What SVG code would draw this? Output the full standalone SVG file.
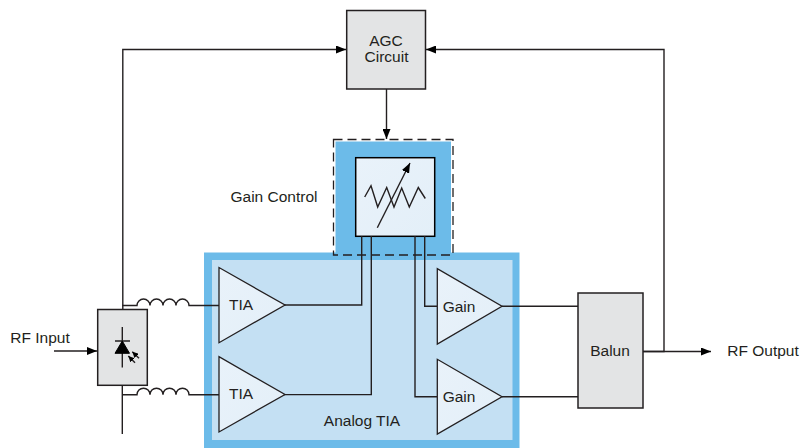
<svg xmlns="http://www.w3.org/2000/svg" width="802" height="448" viewBox="0 0 802 448">
<defs>
<marker id="arr" markerUnits="userSpaceOnUse" markerWidth="10" markerHeight="8" refX="10" refY="4" orient="auto"><path d="M0,0L10,4L0,8Z" fill="#000"/></marker>
<marker id="sm" markerUnits="userSpaceOnUse" markerWidth="6" markerHeight="6" refX="6" refY="3" orient="auto"><path d="M0,0L6,3L0,6Z" fill="#000"/></marker>
<linearGradient id="g" x1="0" y1="0" x2="1" y2="1"><stop offset="0" stop-color="#e9f2fa"/><stop offset="1" stop-color="#e3eff8"/></linearGradient>
</defs>
<style>
text{font-family:"Liberation Sans",Arial,sans-serif;font-size:15.500px;fill:#231f20;text-anchor:middle}
.l{fill:none;stroke:#231f20;stroke-width:1.400}
.a{fill:none;stroke:#231f20;stroke-width:1.400;marker-end:url(#arr)}
.box{fill:#e3e4e5;stroke:#231f20;stroke-width:1.500}
.tri{fill:url(#g);stroke:#231f20;stroke-width:1.300}
</style>
<g id="analog-tia">
<rect x="204" y="252.500" width="315.500" height="195.500" fill="#6cbbe9"/>
<rect x="212" y="260" width="300.500" height="180" fill="#c4e0f3"/>
<text x="362" y="426">Analog TIA</text>
</g>
<g id="gain-control">
<rect x="335.500" y="141.500" width="115.500" height="113" fill="#6cbbe9"/>
<rect x="333.500" y="139.500" width="119.500" height="115.500" fill="none" stroke="#231f20" stroke-width="1.300" stroke-dasharray="9 5"/>
<rect x="355.700" y="157.700" width="79" height="78.600" fill="url(#g)" stroke="#000" stroke-width="1.500"/>
<path class="l" d="M364.700,197L371,185.700L377.700,207L386.700,187.500L394,207L401.700,188L409.300,207L418.300,187.500L425.300,198.500"/>
<path d="M377.300,227.700L410,163" class="l" marker-end="url(#arr)"/>
<text x="274" y="202">Gain Control</text>
</g>
<g id="connectors">
<path class="a" d="M122.800,309V49.500H346"/>
<path class="a" d="M643,351.500H664V49.500H426"/>
<path class="a" d="M386.500,89V139"/>
<path class="a" d="M643,351.500H711"/>
<path class="a" d="M54,351H97"/>
<path class="l" d="M122.300,385V434"/>
<path class="l" d="M122.300,305.500H137A6.500,6.500 0 0 1 150,305.500A6.500,6.500 0 0 1 163,305.500A6.500,6.500 0 0 1 176,305.500A6.500,6.500 0 0 1 189,305.500H219"/>
<path class="l" d="M122.300,394.700H137A6.500,6.500 0 0 1 150,394.700A6.500,6.500 0 0 1 163,394.700A6.500,6.500 0 0 1 176,394.700A6.500,6.500 0 0 1 189,394.700H219"/>
<path class="l" d="M284,305H361.700V236"/>
<path class="l" d="M284,394.600H371.300V236"/>
<path class="l" d="M415,236V396.700H437"/>
<path class="l" d="M424.700,236V306.300H437"/>
<path class="l" d="M502,306.300H578"/>
<path class="l" d="M502,396.700H578"/>
</g>
<g id="agc"><rect class="box" x="346.700" y="10.500" width="78.800" height="78.500"/><text x="386" y="46">AGC</text><text x="386.500" y="62">Circuit</text></g>
<g id="photodiode">
<rect class="box" x="97.700" y="309.500" width="49.600" height="75.800"/>
<path class="l" d="M122.300,327V367.500M115,341H130"/>
<path d="M115,353.300L122.300,341L129.500,353.300Z" fill="#000" stroke="#000"/>
<path d="M139,358.300L132.300,351.700" class="l" marker-end="url(#sm)"/>
<path d="M135,362.700L128.300,356" class="l" marker-end="url(#sm)"/>
</g>
<g id="tia1"><path class="tri" d="M219,267.500V342.700L285,305Z"/><text x="241" y="310">TIA</text></g>
<g id="tia2"><path class="tri" d="M219,356.700V432L285,394.500Z"/><text x="241" y="399">TIA</text></g>
<g id="gain1"><path class="tri" d="M437.300,268.700V344L502,306.300Z"/><text x="459" y="312">Gain</text></g>
<g id="gain2"><path class="tri" d="M437.300,359.300V434L502,396.700Z"/><text x="459" y="402">Gain</text></g>
<g id="balun"><rect class="box" x="578" y="293" width="65" height="115"/><text x="610" y="356">Balun</text></g>
<g id="rf-input"><text x="40" y="343">RF Input</text></g>
<g id="rf-output"><text x="763" y="356">RF Output</text></g>
</svg>
